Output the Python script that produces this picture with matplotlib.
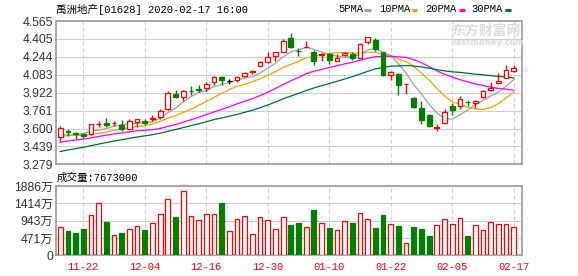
import matplotlib
matplotlib.use('Agg')
import matplotlib.pyplot as plt
from matplotlib.lines import Line2D
import numpy as np
import pandas as pd

# ---------------- data ----------------
opens = [3.526, 3.575, 3.562, 3.547, 3.547, 3.640, 3.651, 3.648, 3.636, 3.600,
         3.660, 3.672, 3.687, 3.702, 3.776, 3.913, 3.883, 3.938, 3.952, 3.964,
         4.017, 4.062, 4.024, 4.035, 4.074, 4.107, 4.157, 4.193, 4.247, 4.291,
         4.410, 4.299, 4.333, 4.288, 4.262, 4.267, 4.205, 4.261, 4.270, 4.232,
         4.380, 4.395, 4.285, 4.083, 4.092, 3.996, 3.874, 3.785, 3.717, 3.609,
         3.651, 3.800, 3.806, 3.842, 3.830, 3.880, 3.943, 4.008, 4.053, 4.113]
highs = [3.621, 3.600, 3.565, 3.562, 3.645, 3.672, 3.696, 3.672, 3.681, 3.690,
         3.690, 3.687, 3.717, 3.776, 3.940, 3.949, 3.949, 3.985, 3.990, 4.020,
         4.074, 4.074, 4.044, 4.074, 4.105, 4.127, 4.202, 4.285, 4.288, 4.401,
         4.455, 4.321, 4.383, 4.306, 4.279, 4.276, 4.267, 4.291, 4.291, 4.366,
         4.422, 4.410, 4.291, 4.113, 4.098, 4.000, 3.883, 3.851, 3.726, 3.642,
         3.776, 3.830, 3.895, 3.860, 3.854, 3.949, 4.020, 4.098, 4.166, 4.172]
lows = [3.487, 3.532, 3.502, 3.511, 3.540, 3.612, 3.615, 3.627, 3.577, 3.592,
        3.615, 3.636, 3.672, 3.690, 3.764, 3.878, 3.845, 3.900, 3.930, 3.934,
        3.993, 3.993, 4.000, 4.014, 4.070, 4.089, 4.155, 4.187, 4.202, 4.288,
        4.327, 4.247, 4.330, 4.172, 4.202, 4.178, 4.205, 4.253, 4.217, 4.229,
        4.357, 4.297, 4.068, 4.032, 3.904, 3.910, 3.785, 3.642, 3.615, 3.577,
        3.648, 3.720, 3.776, 3.800, 3.785, 3.874, 3.934, 4.006, 4.050, 4.104]
closes = [3.606, 3.568, 3.547, 3.532, 3.642, 3.645, 3.636, 3.651, 3.600, 3.666,
          3.687, 3.654, 3.696, 3.761, 3.919, 3.880, 3.934, 3.935, 3.949, 4.000,
          4.062, 4.032, 4.024, 4.059, 4.098, 4.113, 4.193, 4.241, 4.285, 4.383,
          4.336, 4.294, 4.336, 4.202, 4.265, 4.217, 4.235, 4.279, 4.232, 4.360,
          4.419, 4.315, 4.077, 4.104, 3.987, 3.999, 3.794, 3.675, 3.621, 3.612,
          3.746, 3.770, 3.865, 3.836, 3.851, 3.940, 3.964, 4.029, 4.121, 4.142]
# closes before the first visible day (estimated from where the MA lines start)
prior_closes = [3.15, 3.17, 3.19, 3.20, 3.21, 3.23, 3.24, 3.26, 3.28, 3.33,
                3.35, 3.37, 3.38, 3.40, 3.40, 3.41, 3.42, 3.44, 3.46, 3.48,
                3.58, 3.57, 3.56, 3.55, 3.54, 3.52, 3.50, 3.50, 3.51]
# volume in 万 (10k shares)
volumes = [762, 662, 607, 716, 1097, 1414, 907, 544, 607, 707,
           789, 689, 870, 1124, 1523, 1043, 1741, 1061, 952, 1124,
           1124, 1424, 653, 979, 1061, 571, 1034, 952, 707, 1034,
           825, 880, 762, 1233, 870, 743, 680, 925, 880, 1142,
           979, 743, 1097, 852, 798, 326, 771, 716, 526, 816,
           979, 852, 1006, 526, 816, 680, 898, 852, 852, 762]
vol_up = [1, 0, 0, 0, 1, 1, 0, 1, 0, 1,
          1, 0, 1, 1, 1, 0, 1, 1, 1, 1,
          1, 0, 1, 1, 1, 1, 1, 1, 1, 1,
          0, 0, 1, 0, 1, 0, 1, 1, 0, 1,
          1, 0, 0, 1, 0, 1, 0, 0, 0, 1,
          1, 1, 1, 0, 1, 1, 1, 1, 1, 1]
tick_dates = ['11-22', '12-04', '12-16', '12-30', '01-10', '01-22', '02-05', '02-17']
tick_index = [3, 11, 19, 27, 35, 43, 51, 59]
price_ticks = [3.279, 3.439, 3.600, 3.761, 3.922, 4.083, 4.244, 4.405, 4.565]
vol_ticks = [0, 471, 943, 1414, 1886]
ma_periods = [5, 10, 20, 30]
ma_names = ['5PMA', '10PMA', '20PMA', '30PMA']
title = '禹洲地产[01628] 2020-02-17 16:00'
vol_title = '成交量:7673000'

# ---------------- style ----------------
RED = '#ff0000'
GREEN = '#008000'
ma_colors = ['#a0a0a0', '#f5a300', '#ff00ff', '#006e33']
GRID = '#d0d0d0'
SPINE = '#9a9a9a'
W, H = 578, 276
mono = ['Liberation Mono', 'Noto Sans CJK SC']
sans = ['Liberation Sans', 'Noto Sans CJK SC']

fig = plt.figure(figsize=(W / 100, H / 100), dpi=100)
fig.patch.set_facecolor('white')

def fx(px):
    return px / W

def fy(py):
    return 1 - py / H

L, R = 56.4, 522
ax = fig.add_axes([fx(L), fy(164.3), fx(R - L), (164.3 - 21) / H])
axv = fig.add_axes([fx(L), fy(255.3), fx(R - L), (255.3 - 186) / H])

x = np.arange(len(closes))
o = np.array(opens); c = np.array(closes); hi = np.array(highs); lo = np.array(lows)
n = len(x)
xlim = (-0.5, n + 0.08)

# ---- moving averages ----
s = pd.Series(prior_closes + closes)
for per, col in zip(ma_periods, ma_colors):
    ma = s.rolling(per).mean().values[len(prior_closes):]
    ax.plot(x, ma, color=col, lw=0.9, zorder=3, solid_joinstyle='miter')

# ---- candles ----
up = c > o
down = c < o
flat = c == o
body_w = 0.62
col_arr = np.where(up, RED, np.where(down, GREEN, '#000000'))
ax.vlines(x, lo, hi, colors=col_arr, lw=1.0, zorder=4)
bh = np.maximum(np.abs(c - o), 0.0012)
bb = np.minimum(o, c)
ax.bar(x[up], bh[up], bottom=bb[up], width=body_w, facecolor='white',
       edgecolor=RED, linewidth=0.9, zorder=5)
ax.bar(x[down], bh[down], bottom=bb[down], width=body_w, facecolor=GREEN,
       edgecolor=GREEN, linewidth=0.9, zorder=5)
ax.bar(x[flat], bh[flat], bottom=bb[flat], width=body_w, facecolor='black',
       edgecolor='black', linewidth=0.9, zorder=5)

# ---- volume ----
v = np.array(volumes); vu = np.array(vol_up).astype(bool)
axv.bar(x[vu], v[vu], width=body_w, facecolor='white', edgecolor=RED, linewidth=0.9, zorder=3)
axv.bar(x[~vu], v[~vu], width=body_w, facecolor=GREEN, edgecolor=GREEN, linewidth=0.9, zorder=3)

# ---- axes styling ----
dash = (0, (3.6, 2.7))
for a in (ax, axv):
    a.set_xlim(*xlim)
    for sp in a.spines.values():
        sp.set_color(SPINE)
        sp.set_linewidth(1.2)
    a.tick_params(length=0)
    for t in tick_index:
        a.axvline(t, color=GRID, lw=0.8, linestyle=dash, zorder=1)

ax.set_ylim(price_ticks[0], price_ticks[-1])
ax.set_yticks(price_ticks)
ax.set_yticklabels([f'{t:.3f}' for t in price_ticks], fontsize=8.7,
                   family=sans, color='#333333')
ax.yaxis.grid(True, color=GRID, lw=0.8, zorder=0)
ax.set_xticks([])
ax.tick_params(axis='y', pad=2.5)

axv.set_ylim(vol_ticks[0], vol_ticks[-1])
axv.set_yticks(vol_ticks)
axv.set_yticklabels(['0' if t == 0 else f'{t}万' for t in vol_ticks],
                    fontsize=8.7, family=sans, color='#333333')
axv.yaxis.grid(True, color=GRID, lw=0.8, zorder=0)
axv.tick_params(axis='y', pad=2.5)
axv.set_xticks(tick_index)
axv.set_xticklabels(tick_dates, fontsize=7.6, family=mono, color=RED)
axv.tick_params(axis='x', pad=4.5)

# ---- texts ----
fig.text(fx(56), fy(9), title, fontsize=7.6, family=mono, va='center', ha='left')
fig.text(fx(57), fy(177.5), vol_title, fontsize=7.6, family=mono, va='center', ha='left')

leg_text_x = [338, 379.7, 425.5, 471]
leg_line_x = [(364.5, 371), (411.5, 417), (458.5, 464.5), (505, 511)]
for name, col, tx, (l0, l1) in zip(ma_names, ma_colors, leg_text_x, leg_line_x):
    fig.text(fx(tx), fy(9), name, fontsize=7.6, family=mono, va='center', ha='left')
    fig.add_artist(Line2D([fx(l0), fx(l1)], [fy(9.7), fy(9.7)], color=col, lw=2.2,
                          solid_capstyle='butt'))

# watermark
fig.text(fx(451), fy(31), '东方财富网', fontsize=10, family=['Noto Sans CJK SC'],
         weight='bold', color='#dcdcdc', va='center', ha='left', zorder=0)
fig.text(fx(451), fy(42.5), 'eastmoney.com', fontsize=6, family=['DejaVu Sans'],
         weight='bold', color='#dcdcdc', va='center', ha='left', zorder=0)

fig.savefig('out.png', dpi=100, facecolor='white')
